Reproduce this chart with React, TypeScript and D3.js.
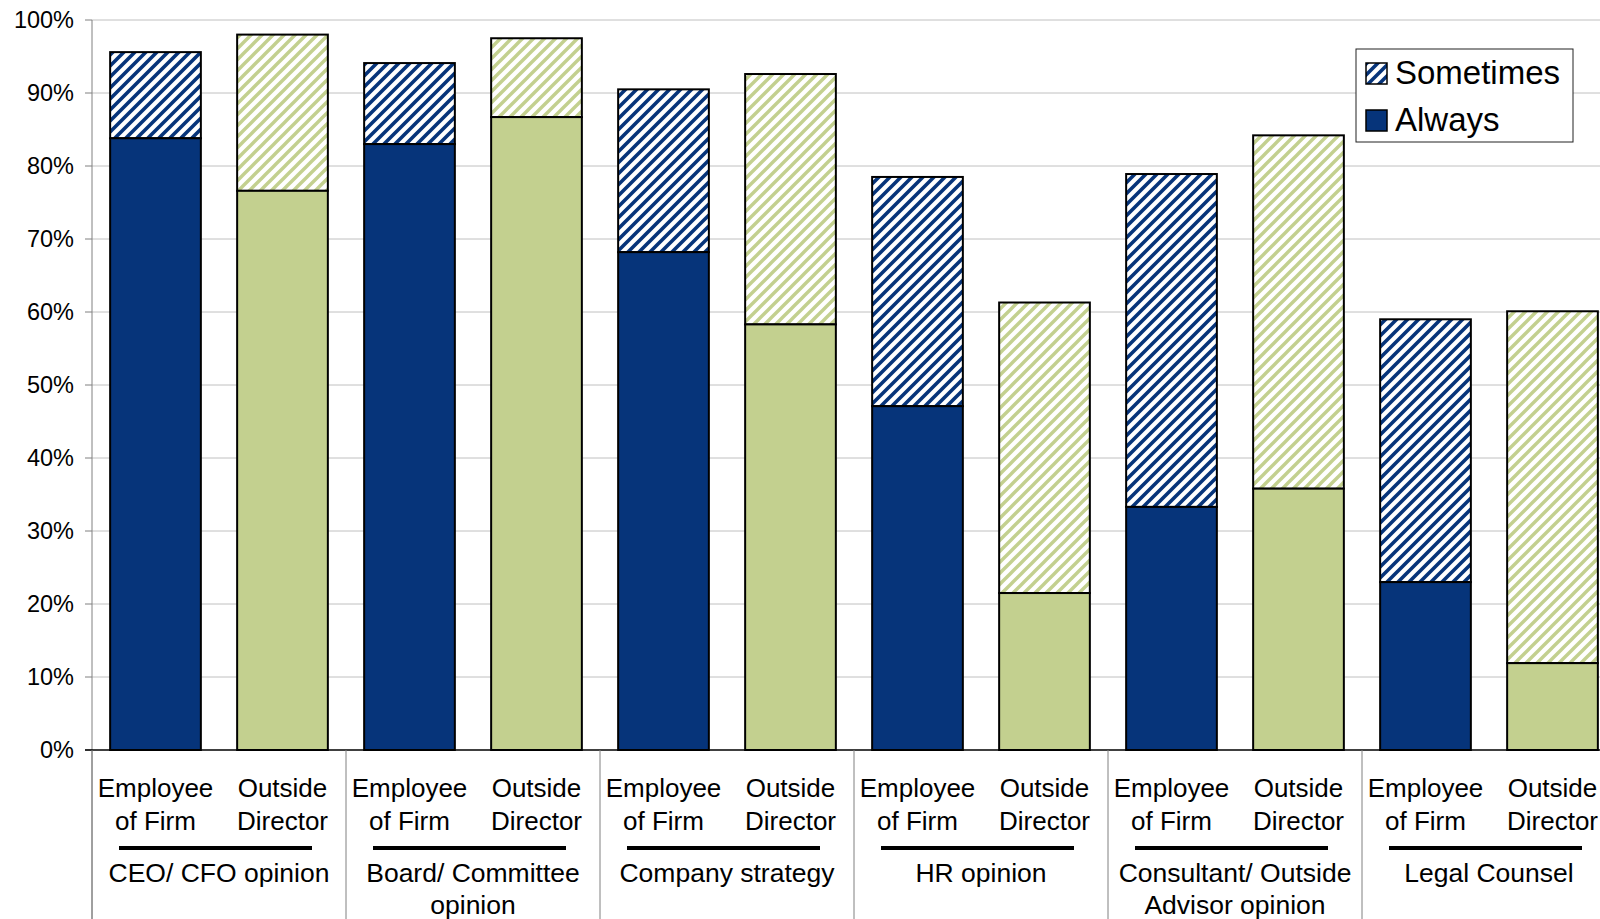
import React from "react";
import * as d3 from "d3";

// Survey: how often each source of input is used, by respondent type
const groups = [
  ["CEO/ CFO opinion"],
  ["Board/ Committee", "opinion"],
  ["Company strategy"],
  ["HR opinion"],
  ["Consultant/ Outside", "Advisor opinion"],
  ["Legal Counsel"],
];
const respondents = [
  ["Employee", "of Firm"],
  ["Outside", "Director"],
];
// Share answering "Always" (%), in bar order: employee, outside director per group
const always = [83.8, 76.6, 83.0, 86.7, 68.2, 58.3, 47.1, 21.5, 33.3, 35.8, 23.0, 11.9];
// Share answering "Always" or "Sometimes" (stack top, %)
const total = [95.6, 98.0, 94.1, 97.5, 90.5, 92.6, 78.5, 61.3, 78.9, 84.2, 59.0, 60.1];
const yTicks = [0, 10, 20, 30, 40, 50, 60, 70, 80, 90, 100];
const seriesNames = ["Sometimes", "Always"];

const W = 1600;
const H = 919;
const left = 92;
const right = 1616;
const top = 20;
const bottom = 750;

const NAVY = "#06347A";
const GREEN = "#C3D08F";
const FONT = "'Liberation Sans', Arial, sans-serif";

export default function App() {
  const barIds = d3.range(always.length);
  const x = d3
    .scaleBand<number>()
    .domain(barIds)
    .range([left, right])
    .paddingInner(0.4 / 1.4)
    .paddingOuter(0.2 / 1.4);
  const gx = d3
    .scaleBand<number>()
    .domain(d3.range(groups.length))
    .range([left, right]);
  const y = d3.scaleLinear().domain([0, 100]).range([bottom, top]);

  const fillFor = (i: number, hatched: boolean) => {
    const blue = i % 2 === 0;
    if (hatched) return blue ? "url(#hatchBlue)" : "url(#hatchGreen)";
    return blue ? NAVY : GREEN;
  };

  const P = 11;
  const hatchPath = `M-2,2 L2,-2 M0,${P} L${P},0 M${P - 2},${P + 2} L${P + 2},${P - 2}`;

  return (
    <div style={{ position: "absolute", left: 0, top: 0 }}>
      <svg width={W} height={H} style={{ display: "block", background: "#fff" }} fontFamily={FONT}>
        <defs>
          <pattern id="hatchBlue" patternUnits="userSpaceOnUse" width={P} height={P}>
            <rect width={P} height={P} fill="#fff" />
            <path d={hatchPath} stroke={NAVY} strokeWidth={3.6} />
          </pattern>
          <pattern id="hatchGreen" patternUnits="userSpaceOnUse" width={P} height={P}>
            <rect width={P} height={P} fill="#fff" />
            <path d={hatchPath} stroke={GREEN} strokeWidth={3.4} />
          </pattern>
        </defs>

        {/* gridlines */}
        {yTicks.filter((t) => t > 0).map((t) => (
          <line key={`g${t}`} x1={left} x2={W} y1={y(t)} y2={y(t)} stroke="#c0c0c0" strokeWidth={1} />
        ))}

        {/* y axis, ticks, labels */}
        <line x1={left} x2={left} y1={top} y2={H} stroke="#808080" strokeWidth={1} />
        {yTicks.map((t) => (
          <g key={`t${t}`}>
            <line x1={left - 7} x2={left} y1={y(t)} y2={y(t)} stroke="#808080" strokeWidth={1} />
            <text x={74} y={y(t) + 8} textAnchor="end" fontSize={23.5} fill="#000">
              {`${t}%`}
            </text>
          </g>
        ))}

        {/* stacked bars */}
        {barIds.map((i) => {
          const bx = x(i) as number;
          const bw = x.bandwidth();
          return (
            <g key={`b${i}`} stroke="#000" strokeWidth={2}>
              <rect x={bx} y={y(total[i])} width={bw} height={y(always[i]) - y(total[i])} fill={fillFor(i, true)} />
              <rect x={bx} y={y(always[i])} width={bw} height={y(0) - y(always[i])} fill={fillFor(i, false)} />
            </g>
          );
        })}

        {/* category axis */}
        <line x1={left - 7} x2={W} y1={bottom} y2={bottom} stroke="#000" strokeWidth={1.5} />
        {d3.range(groups.length).map((g) => (
          <line key={`s${g}`} x1={gx(g) as number} x2={gx(g) as number} y1={bottom} y2={H} stroke="#808080" strokeWidth={1} />
        ))}
        {barIds.map((i) => {
          const cx = (x(i) as number) + x.bandwidth() / 2;
          const lines = respondents[i % 2];
          return (
            <text key={`r${i}`} x={cx} textAnchor="middle" fontSize={26} fill="#000">
              {lines.map((l, k) => (
                <tspan key={k} x={cx} y={797 + k * 33}>
                  {l}
                </tspan>
              ))}
            </text>
          );
        })}
        {groups.map((lines, g) => {
          const cx = (gx(g) as number) + gx.bandwidth() / 2;
          return (
            <g key={`c${g}`}>
              <line x1={cx - 100} x2={cx + 93} y1={848} y2={848} stroke="#000" strokeWidth={4} />
              <text x={cx} textAnchor="middle" fontSize={26.5} fill="#000">
                {lines.map((l, k) => (
                  <tspan key={k} x={cx} y={882 + k * 32}>
                    {l}
                  </tspan>
                ))}
              </text>
            </g>
          );
        })}

        {/* legend */}
        <g>
          <rect x={1356} y={49} width={217} height={93} fill="#fff" stroke="#222" strokeWidth={1} />
          {seriesNames.map((name, k) => (
            <g key={name}>
              <rect
                x={1366}
                y={63 + k * 47}
                width={21}
                height={21}
                fill={k === 0 ? "url(#hatchBlue)" : NAVY}
                stroke="#000"
                strokeWidth={1.5}
              />
              <text x={1395} y={84 + k * 47} fontSize={33} fill="#000">
                {name}
              </text>
            </g>
          ))}
        </g>
      </svg>
    </div>
  );
}
